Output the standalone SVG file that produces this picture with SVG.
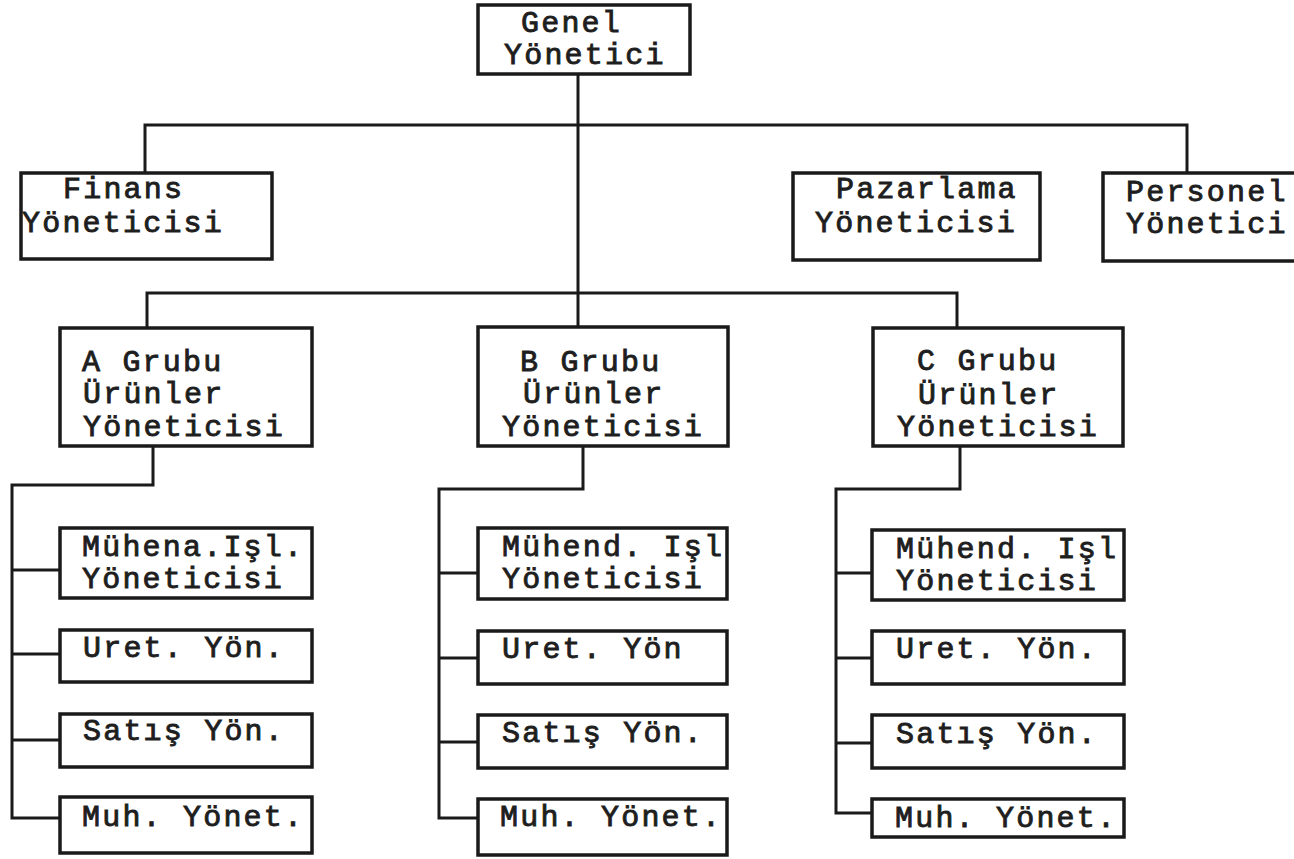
<svg xmlns="http://www.w3.org/2000/svg" width="1294" height="859" viewBox="0 0 1294 859">
  <style>
    .box { fill: #ffffff; stroke: #1a1a1a; stroke-width: 3.5; }
    .wire { fill: none; stroke: #1a1a1a; stroke-width: 3; stroke-linejoin: miter; }
    .lbl { font-family: "Liberation Mono", "DejaVu Sans Mono", monospace; font-size: 30px; letter-spacing: 2.2px; font-weight: normal; fill: #1e1e1e; stroke: #1e1e1e; stroke-width: 0.9px; }
  </style>
  <rect x="0" y="0" width="1294" height="859" fill="#ffffff"/>

  <!-- connectors -->
  <g id="connectors">
    <!-- top level -->
    <path class="wire" d="M578 74 V328"/>
    <path class="wire" d="M145 173 V125 H1187 V173"/>
    <path class="wire" d="M147 328 V293 H957 V328"/>
    <!-- group A -->
    <path class="wire" d="M153 446 V485 H12 V818 H60"/>
    <path class="wire" d="M12 570 H60 M12 654 H60 M12 740 H60"/>
    <!-- group B -->
    <path class="wire" d="M583 446 V489 H439 V818 H478"/>
    <path class="wire" d="M439 573 H478 M439 658 H478 M439 742 H478"/>
    <!-- group C -->
    <path class="wire" d="M960 446 V489 H836 V813 H872"/>
    <path class="wire" d="M836 573 H872 M836 658 H872 M836 743 H872"/>
  </g>

  <!-- top management -->
  <g id="genel">
    <rect class="box" x="478" y="5" width="212" height="69"/>
    <text class="lbl" x="521" y="32">Genel</text>
    <text class="lbl" x="504" y="64">Yönetici</text>
  </g>
  <g id="finans">
    <rect class="box" x="21" y="173" width="251" height="86"/>
    <text class="lbl" x="63" y="198">Finans</text>
    <text class="lbl" x="22" y="232">Yöneticisi</text>
  </g>
  <g id="pazarlama">
    <rect class="box" x="793" y="173" width="247" height="87"/>
    <text class="lbl" x="836" y="198">Pazarlama</text>
    <text class="lbl" x="815" y="232">Yöneticisi</text>
  </g>
  <g id="personel">
    <rect class="box" x="1103" y="173" width="210" height="88"/>
    <text class="lbl" x="1126" y="201">Personel</text>
    <text class="lbl" x="1126" y="233">Yönetici</text>
  </g>

  <!-- product groups -->
  <g id="grup-a">
    <rect class="box" x="60" y="328" width="252" height="118"/>
    <text class="lbl" x="82" y="371">A Grubu</text>
    <text class="lbl" x="83" y="403">Ürünler</text>
    <text class="lbl" x="83" y="436">Yöneticisi</text>
  </g>
  <g id="grup-b">
    <rect class="box" x="478" y="327" width="250" height="119"/>
    <text class="lbl" x="520" y="371">B Grubu</text>
    <text class="lbl" x="523" y="403">Ürünler</text>
    <text class="lbl" x="502" y="436">Yöneticisi</text>
  </g>
  <g id="grup-c">
    <rect class="box" x="873" y="328" width="250" height="118"/>
    <text class="lbl" x="917" y="370">C Grubu</text>
    <text class="lbl" x="918" y="404">Ürünler</text>
    <text class="lbl" x="897" y="436">Yöneticisi</text>
  </g>

  <!-- group A units -->
  <g id="a-muhend">
    <rect class="box" x="60" y="528" width="252" height="70"/>
    <text class="lbl" x="82" y="556">Mühena.Işl.</text>
    <text class="lbl" x="82" y="588">Yöneticisi</text>
  </g>
  <g id="a-uret">
    <rect class="box" x="60" y="630" width="252" height="52"/>
    <text class="lbl" x="83" y="657">Uret. Yön.</text>
  </g>
  <g id="a-satis">
    <rect class="box" x="60" y="714" width="252" height="53"/>
    <text class="lbl" x="83" y="740">Satış Yön.</text>
  </g>
  <g id="a-muh">
    <rect class="box" x="60" y="797" width="252" height="56"/>
    <text class="lbl" x="82" y="826">Muh. Yönet.</text>
  </g>

  <!-- group B units -->
  <g id="b-muhend">
    <rect class="box" x="478" y="528" width="249" height="71"/>
    <text class="lbl" x="502" y="556">Mühend. Işl</text>
    <text class="lbl" x="502" y="588">Yöneticisi</text>
  </g>
  <g id="b-uret">
    <rect class="box" x="478" y="631" width="249" height="53"/>
    <text class="lbl" x="502" y="658">Uret. Yön</text>
  </g>
  <g id="b-satis">
    <rect class="box" x="478" y="715" width="249" height="53"/>
    <text class="lbl" x="502" y="742">Satış Yön.</text>
  </g>
  <g id="b-muh">
    <rect class="box" x="478" y="799" width="249" height="56"/>
    <text class="lbl" x="500" y="826">Muh. Yönet.</text>
  </g>

  <!-- group C units -->
  <g id="c-muhend">
    <rect class="box" x="872" y="530" width="252" height="70"/>
    <text class="lbl" x="896" y="558">Mühend. Işl</text>
    <text class="lbl" x="896" y="590">Yöneticisi</text>
  </g>
  <g id="c-uret">
    <rect class="box" x="872" y="631" width="252" height="53"/>
    <text class="lbl" x="896" y="658">Uret. Yön.</text>
  </g>
  <g id="c-satis">
    <rect class="box" x="872" y="715" width="252" height="53"/>
    <text class="lbl" x="896" y="743">Satış Yön.</text>
  </g>
  <g id="c-muh">
    <rect class="box" x="872" y="799" width="252" height="38"/>
    <text class="lbl" x="895" y="827">Muh. Yönet.</text>
  </g>
</svg>
